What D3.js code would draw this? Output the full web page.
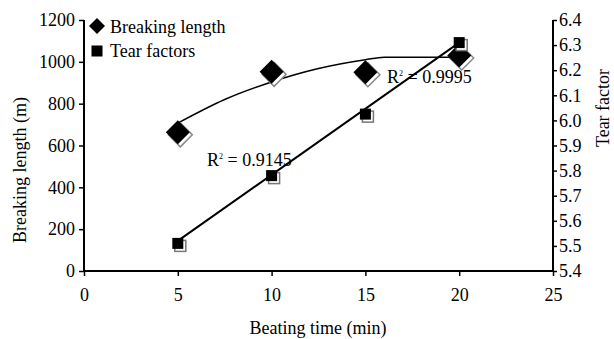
<!DOCTYPE html>
<html>
<head>
<meta charset="utf-8">
<script src="https://cdn.jsdelivr.net/npm/d3@7"></script>
<style>
  body { margin: 0; background: #fff; }
  text { font-family: "Liberation Serif", "Times New Roman", serif; fill: #000; }
</style>
</head>
<body>
<div id="chart"></div>
<script>
// beating time (min)
var times = [5, 10, 15, 20];
// breaking length (m), left axis
var breakingLength = [663, 952, 950, 1030];
// tear factor, right axis
var tearFactor = [5.51, 5.78, 6.025, 6.31];

// trend lines
var blTrendX = [5, 7.5, 10, 12.5, 15, 16, 20];
var blTrendY = [707, 820, 904, 968, 1010, 1022, 1022];
var tfTrendX = [5, 20];
var tfTrendY = [5.52, 6.31];

var xTicks = [0, 5, 10, 15, 20, 25];
var leftTicks = [0, 200, 400, 600, 800, 1000, 1200];
var rightTicks = [5.4, 5.5, 5.6, 5.7, 5.8, 5.9, 6.0, 6.1, 6.2, 6.3, 6.4];

var W = 614, H = 339;
var margin = { top: 20, right: 61, bottom: 68, left: 84 },
  width = W - margin.left - margin.right,
  height = H - margin.top - margin.bottom;

var svg = d3.select('#chart')
  .append('svg')
  .attr('width', W)
  .attr('height', H);

var g = svg.append('g')
  .attr('transform', 'translate(' + margin.left + ',' + margin.top + ')');

var x = d3.scaleLinear().domain([0, 25]).range([0, width]);
var yL = d3.scaleLinear().domain([0, 1200]).range([height, 0]);
var yR = d3.scaleLinear().domain([5.4, 6.4]).range([height, 0]);

// axes
var xAxis = g.append('g')
  .attr('transform', 'translate(0,' + height + ')')
  .call(d3.axisBottom(x).tickValues(xTicks).tickSize(5).tickPadding(12));

var leftAxis = g.append('g')
  .call(d3.axisLeft(yL).tickValues(leftTicks).tickSize(5).tickPadding(4)
    .tickFormat(d3.format('d')));

var rightAxis = g.append('g')
  .attr('transform', 'translate(' + width + ',0)')
  .call(d3.axisRight(yR).tickValues(rightTicks).tickSize(4).tickPadding(2)
    .tickFormat(d3.format('.1f')));

[xAxis, leftAxis, rightAxis].forEach(function (a) {
  a.select('.domain').attr('stroke', '#000').attr('stroke-width', 2);
  a.selectAll('.tick line').attr('stroke', '#000').attr('stroke-width', 1.5);
  a.selectAll('.tick text')
    .style('font-family', '"Liberation Serif", serif')
    .style('font-size', '18px')
    .attr('fill', '#000');
});
xAxis.select('.domain').attr('d', 'M0,0H' + width);
leftAxis.select('.domain').attr('d', 'M0,0V' + height);
rightAxis.select('.domain').attr('d', 'M0,0V' + height);

// axis titles
svg.append('text')
  .attr('x', 318)
  .attr('y', 334)
  .attr('text-anchor', 'middle')
  .style('font-size', '18px')
  .text('Beating time (min)');

svg.append('text')
  .attr('transform', 'translate(26,170) rotate(-90)')
  .attr('text-anchor', 'middle')
  .style('font-size', '18px')
  .text('Breaking length (m)');

svg.append('text')
  .attr('transform', 'translate(609,108) rotate(-90)')
  .attr('text-anchor', 'middle')
  .style('font-size', '18px')
  .text('Tear factor');

// trend lines
var blTrend = blTrendX.map(function (d, i) { return [d, blTrendY[i]]; });
var tfTrend = tfTrendX.map(function (d, i) { return [d, tfTrendY[i]]; });

g.append('path')
  .datum(blTrend)
  .attr('fill', 'none')
  .attr('stroke', '#000')
  .attr('stroke-width', 1.5)
  .attr('d', d3.line()
    .x(function (d) { return x(d[0]); })
    .y(function (d) { return yL(d[1]); })
    .curve(d3.curveMonotoneX));

g.append('path')
  .datum(tfTrend)
  .attr('fill', 'none')
  .attr('stroke', '#000')
  .attr('stroke-width', 2)
  .attr('d', d3.line()
    .x(function (d) { return x(d[0]); })
    .y(function (d) { return yR(d[1]); }));

// marker drawing helpers
function diamond(sel, cx, cy, s) {
  var pts = [[cx, cy - s], [cx + s, cy], [cx, cy + s], [cx - s, cy]];
  return sel.append('polygon').attr('points', pts.join(' '));
}
function square(sel, cx, cy, s) {
  return sel.append('rect')
    .attr('x', cx - s).attr('y', cy - s)
    .attr('width', 2 * s).attr('height', 2 * s);
}

// breaking length diamonds (with shadow)
var bl = g.append('g');
times.forEach(function (t, i) {
  var cx = x(t), cy = yL(breakingLength[i]);
  diamond(bl, cx + 2.5, cy + 2.5, 12).attr('fill', '#fff').attr('stroke', '#888').attr('stroke-width', 1.5);
  diamond(bl, cx, cy, 12).attr('fill', '#000');
});

// tear factor squares (with shadow)
var tf = g.append('g');
times.forEach(function (t, i) {
  var cx = x(t), cy = yR(tearFactor[i]);
  square(tf, cx + 2.5, cy + 2.5, 5.5).attr('fill', '#fff').attr('stroke', '#777').attr('stroke-width', 1.5);
  square(tf, cx, cy, 5.5).attr('fill', '#000');
});

// R squared labels
function r2Label(px, py, val) {
  var t = svg.append('text').attr('x', px).attr('y', py).style('font-size', '18px');
  t.append('tspan').text('R');
  t.append('tspan').attr('dy', -7).style('font-size', '8px').text('2');
  t.append('tspan').attr('dy', 7).text(' = ' + val);
}
r2Label(387, 83, '0.9995');
r2Label(207, 166, '0.9145');

// legend
var legend = svg.append('g');
diamond(legend, 97, 26, 8).attr('fill', '#000');
legend.append('text').attr('x', 110).attr('y', 33).style('font-size', '18px').text('Breaking length');
square(legend, 97, 51, 5.5).attr('fill', '#000');
legend.append('text').attr('x', 110).attr('y', 57).style('font-size', '18px').text('Tear factors');
</script>
</body>
</html>
